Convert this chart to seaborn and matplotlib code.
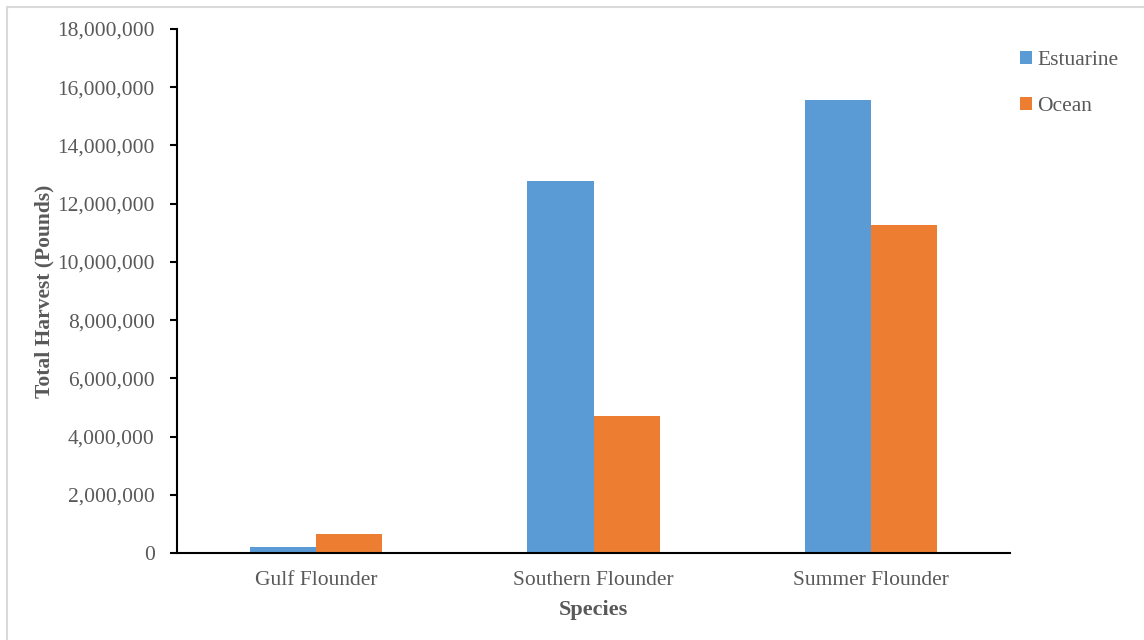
import pandas as pd
import matplotlib.pyplot as plt
import matplotlib.ticker as mticker
from matplotlib.lines import Line2D
import seaborn as sns

# Values (pounds)
species = ["Gulf Flounder", "Southern Flounder", "Summer Flounder"]
estuarine = [190000, 12780000, 15560000]
ocean = [650000, 4710000, 11260000]

df = pd.DataFrame({
    "species": species * 2,
    "source": ["Estuarine"] * 3 + ["Ocean"] * 3,
    "harvest": estuarine + ocean,
})

sns.set_style("white")
plt.rcParams["font.family"] = ["Liberation Serif", "DejaVu Serif"]

grey = "#595959"
fig = plt.figure(figsize=(11.44, 6.4), dpi=100)
ax = fig.add_axes([0.1547, 0.1359, 0.7282, 0.8188])

sns.barplot(data=df, x="species", y="harvest", hue="source",
            palette=["#5B9BD5", "#ED7D31"], width=0.476, saturation=1,
            linewidth=0, ax=ax)

ax.set_ylim(0, 18000000)
ax.set_xlim(-0.5, 2.5)
ax.yaxis.set_major_locator(mticker.MultipleLocator(2000000))
ax.yaxis.set_major_formatter(mticker.FuncFormatter(lambda v, p: f"{int(v):,}"))

# category boundary ticks on x axis, labels at centers
ax.set_xticks(range(len(species)))
ax.set_xticklabels(species)
ax.set_xticks([-0.5, 0.5, 1.5, 2.5], minor=True)
ax.tick_params(axis="x", which="major", length=0, pad=13, labelsize=15.5, labelcolor=grey)
ax.tick_params(axis="x", which="minor", length=5, width=1.5, color="black", direction="out")
ax.tick_params(axis="y", length=5, width=1.5, color="black", direction="out",
               left=True, pad=11, labelsize=15.5, labelcolor=grey)

for s in ["top", "right"]:
    ax.spines[s].set_visible(False)
for s in ["left", "bottom"]:
    ax.spines[s].set_color("black")
    ax.spines[s].set_linewidth(1.5)

ax.set_xlabel("Species", fontsize=16, fontweight="bold", color=grey, labelpad=7)
ax.set_ylabel("Total Harvest (Pounds)", fontsize=15.5, fontweight="bold", color=grey, labelpad=2)

handles, labels = ax.get_legend_handles_labels()
ax.legend(handles, labels, loc="upper left", bbox_to_anchor=(0.875, 0.95),
          bbox_transform=fig.transFigure, frameon=False, fontsize=15.5,
          handlelength=0.55, handleheight=0.55, handletextpad=0.25,
          labelspacing=1.25, labelcolor=grey)

# light grey frame on the left and top edges
fig.add_artist(Line2D([6.5 / 1144, 6.5 / 1144], [0, 1 - 6.5 / 640], transform=fig.transFigure,
                      color="#d9d9d9", linewidth=1.5))
fig.add_artist(Line2D([6.5 / 1144, 1], [1 - 6.5 / 640, 1 - 6.5 / 640], transform=fig.transFigure,
                      color="#d9d9d9", linewidth=1.5))

fig.savefig("out.png", dpi=100)
